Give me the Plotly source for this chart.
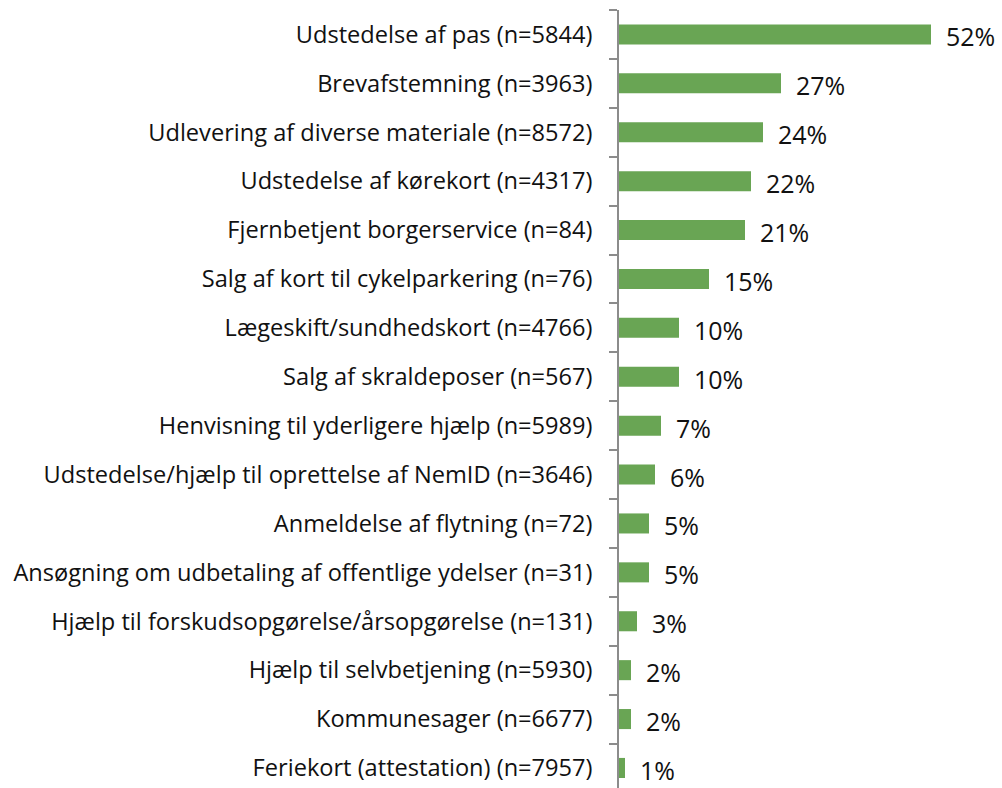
import plotly.graph_objects as go

categories = [
    "Udstedelse af pas (n=5844)",
    "Brevafstemning (n=3963)",
    "Udlevering af diverse materiale (n=8572)",
    "Udstedelse af kørekort (n=4317)",
    "Fjernbetjent borgerservice (n=84)",
    "Salg af kort til cykelparkering (n=76)",
    "Lægeskift/sundhedskort (n=4766)",
    "Salg af skraldeposer (n=567)",
    "Henvisning til yderligere hjælp (n=5989)",
    "Udstedelse/hjælp til oprettelse af NemID (n=3646)",
    "Anmeldelse af flytning (n=72)",
    "Ansøgning om udbetaling af offentlige ydelser (n=31)",
    "Hjælp til forskudsopgørelse/årsopgørelse (n=131)",
    "Hjælp til selvbetjening (n=5930)",
    "Kommunesager (n=6677)",
    "Feriekort (attestation) (n=7957)",
]
shares = [52, 27, 24, 22, 21, 15, 10, 10, 7, 6, 5, 5, 3, 2, 2, 1]

FONT = "'Open Sans', sans-serif"
GREEN = "#69A554"

fig = go.Figure(
    go.Bar(
        x=shares,
        y=categories,
        orientation="h",
        marker=dict(color=GREEN, line=dict(width=0)),
        width=0.41,
        hoverinfo="skip",
    )
)

for cat, val in zip(categories, shares):
    fig.add_annotation(
        x=val, y=cat, text=f"{val}%", showarrow=False,
        xanchor="left", yanchor="middle", xshift=13, yshift=-2,
        font=dict(family=FONT, size=25, color="#111111"),
    )

fig.update_layout(
    width=1002, height=788,
    margin=dict(l=619, r=23, t=10, b=0),
    plot_bgcolor="white", paper_bgcolor="white",
    showlegend=False,
    xaxis=dict(range=[0, 60], visible=False, fixedrange=True),
    yaxis=dict(
        type="category",
        categoryorder="array", categoryarray=categories,
        range=[15.41, -0.5],
        showline=True, linecolor="#8c8c8c", linewidth=1.5,
        ticks="outside", tickson="boundaries", ticklen=8,
        tickcolor="#8c8c8c", tickwidth=1.5,
        ticklabelstandoff=20,
        tickfont=dict(family=FONT, size=23.6, color="#111111"),
        showgrid=False, zeroline=False,
    ),
)

fig.write_html("out.html")
